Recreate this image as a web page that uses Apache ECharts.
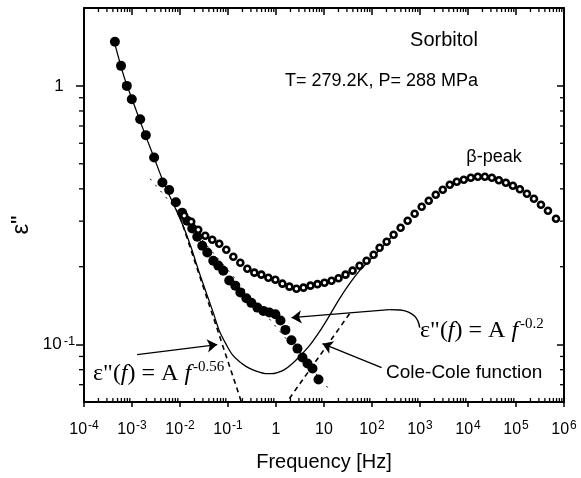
<!DOCTYPE html>
<html><head><meta charset="utf-8">
<script src="https://cdn.jsdelivr.net/npm/echarts@6/dist/echarts.min.js"></script>
<style>html,body{margin:0;padding:0;background:#fff}#c{width:581px;height:478px}</style>
</head><body><div id="c"></div>
<script>
// ---- axis ranges ----
const X_MIN = 1e-4, X_MAX = 1e6, Y_MIN = 0.06, Y_MAX = 2;

// ---- filled circles (alpha process / excess wing) ----
const filledFreq = [4.4e-4, 5.9e-4, 7.8e-4, 9.9e-4, 1.48e-3, 1.94e-3, 2.89e-3, 4.3e-3, 5.95e-3, 8.2e-3,
  0.0111, 0.0141, 0.018, 0.0229, 0.0291, 0.037, 0.0493, 0.0627, 0.0798, 0.106, 0.142, 0.181, 0.241, 0.306,
  0.409, 0.546, 0.728, 0.97, 1.24, 1.57, 2.1, 2.8, 3.56, 4.53, 5.76, 7.68];
const filledEps = [1.48, 1.195, 1.0, 0.888, 0.743, 0.645, 0.529, 0.423, 0.396, 0.355,
  0.323, 0.301, 0.281, 0.261, 0.241, 0.227, 0.211, 0.202, 0.193, 0.177, 0.169, 0.159, 0.151, 0.145,
  0.139, 0.135, 0.133, 0.131, 0.124, 0.114, 0.104, 0.0965, 0.0891, 0.0845, 0.0808, 0.0733];

// ---- open circles (measured, with beta peak) ----
const openFreq = [0.01225, 0.01714, 0.02399, 0.03357, 0.04698, 0.06575, 0.0922, 0.1291, 0.1807, 0.2529,
  0.354, 0.4955, 0.6935, 0.9705, 1.361, 1.905, 2.667, 3.733, 5.224, 7.31, 10.24, 14.34, 20.08, 28.1, 39.4,
  55.1, 77.1, 108, 144, 202, 282, 395, 553, 774, 1084, 1520, 2128, 2979, 4169, 5834, 8166, 11430, 16030,
  22440, 31410, 43950, 61510, 86100, 120500, 169000, 236600, 331100, 463400, 680800];
const openEps = [0.3147, 0.2985, 0.278, 0.2635, 0.2543, 0.2455, 0.2327, 0.2186, 0.2073, 0.1965,
  0.1897, 0.1864, 0.1814, 0.1782, 0.172, 0.1675, 0.1645, 0.166, 0.169, 0.1713, 0.1735, 0.1766, 0.1806, 0.1864, 0.1931,
  0.2018, 0.211, 0.2226, 0.2368, 0.2498, 0.2659, 0.2829, 0.3011, 0.3205, 0.341, 0.3597, 0.3795, 0.3967, 0.4147, 0.4258, 0.4335, 0.4413, 0.4453,
  0.4453, 0.4413, 0.4316, 0.4221, 0.411, 0.3984, 0.3828, 0.3662, 0.3471, 0.3292, 0.3066];

// ---- Cole-Cole function (solid line) ----
const coleFreq = [4.23e-4, 6.84e-4, 1.107e-3, 1.79e-3, 2.89e-3, 4.68e-3, 7.57e-3, 0.01225, 0.01714, 0.0252, 0.0352,
  0.0493, 0.0658, 0.0922, 0.123, 0.172, 0.241, 0.321, 0.45, 0.601, 0.802, 1.07, 1.5, 2.2, 3.08, 4.98, 8.05,
  13.0, 21.1, 34.1, 55.1, 80.9, 144, 269];
const coleEps = [1.492, 1.083, 0.845, 0.664, 0.527, 0.4183, 0.344, 0.2805, 0.2368, 0.1897, 0.1588,
  0.1329, 0.1132, 0.1, 0.0915, 0.086, 0.0822, 0.08, 0.0783, 0.0773, 0.0772, 0.078, 0.08, 0.0845, 0.0899, 0.0991, 0.1122,
  0.1294, 0.1505, 0.172, 0.1931, 0.208, 0.2327, 0.2634];

// ---- power-law asymptotes (dashed) ----
const slope056Freq = [0.01, 0.25];    const slope056Eps = [0.312, 0.0515];
const risingFreq   = [1.9, 37.5];     const risingEps   = [0.0619, 0.135];
const slope02Freq  = [0.00239, 13.0]; const slope02Eps  = [0.4375, 0.067];

// ---- annotation arrows (data coordinates) ----
const arrow056  = [[0.001278, 0.0915], [0.0598, 0.1]];
const arrowCole = [[158.6, 0.0815], [9.31, 0.1008]];
const curve02   = [[986, 0.1163], [900, 0.1235], [760, 0.1292], [560, 0.1338], [380, 0.136], [230, 0.1365]];
const arrow02   = [[230, 0.1365], [2.1, 0.1271]];

const zip = (a, b) => a.map((v, i) => [v, b[i]]);

const minorX = [];
for (let e = -4; e < 6; e++) for (let m = 2; m <= 9; m++) minorX.push([m * Math.pow(10, e), 1]);
const minorY = [];
for (let e = -2; e < 1; e++) for (let m = 2; m <= 9; m++) {
  const v = m * Math.pow(10, e);
  if (v > Y_MIN && v < Y_MAX) minorY.push([1, v]);
}

const FONT = '"Liberation Sans", Arial, sans-serif';
const SERIF = '"Liberation Serif", "Times New Roman", serif';

function isPow10(v) { const l = Math.log10(v); return Math.abs(l - Math.round(l)) < 1e-6; }
function xFmt(v) {
  if (!isPow10(v)) return '';
  const e = Math.round(Math.log10(v));
  if (e === 0) return '{b|1}';
  if (e === 1) return '{b|10}';
  return '{b|10}{s|' + e + '}';
}
function yFmt(v) {
  if (!isPow10(v)) return '';
  const e = Math.round(Math.log10(v));
  if (e === 0) return '{b|1}';
  return '{b|10}{s|' + e + '}';
}
const xRich = {
  b: {fontSize: 16, fontFamily: FONT, color: '#000', lineHeight: 20},
  s: {fontSize: 12, fontFamily: FONT, color: '#000', verticalAlign: 'top', lineHeight: 12, padding: [0, 0, 0, 1]}
};
const yRich = {
  b: {fontSize: 17, fontFamily: FONT, color: '#000', lineHeight: 20},
  s: {fontSize: 13, fontFamily: FONT, color: '#000', verticalAlign: 'top', lineHeight: 13, padding: [0, 0, 0, 2]}
};

const chart = echarts.init(document.getElementById('c'), null, {renderer: 'canvas'});

function minorRender(isX) {
  return function (params, api) {
    const out = [];
    const style = {stroke: '#000', lineWidth: 1.3};
    if (isX) {
      const v = api.value(0);
      const pb = api.coord([v, Y_MIN]);
      const pt = api.coord([v, Y_MAX]);
      out.push({type: 'line', shape: {x1: pb[0], y1: pb[1], x2: pb[0], y2: pb[1] - 4}, style});
      out.push({type: 'line', shape: {x1: pt[0], y1: pt[1], x2: pt[0], y2: pt[1] + 4}, style});
    } else {
      const v = api.value(1);
      const pl = api.coord([X_MIN, v]);
      const pr = api.coord([X_MAX, v]);
      out.push({type: 'line', shape: {x1: pl[0], y1: pl[1], x2: pl[0] - 5, y2: pl[1]}, style});
      out.push({type: 'line', shape: {x1: pr[0], y1: pr[1], x2: pr[0] - 4, y2: pr[1]}, style});
    }
    return {type: 'group', children: out};
  };
}

const formulaRich = {
  n: {fontFamily: SERIF, fontSize: 24, lineHeight: 28, fill: '#000'},
  i: {fontFamily: SERIF, fontSize: 24, fontStyle: 'italic', lineHeight: 28, fill: '#000'},
  s: {fontFamily: SERIF, fontSize: 15, lineHeight: 15, verticalAlign: 'top', fill: '#000', padding: [0, 0, 0, 2]}
};

const option = {
  animation: false,
  backgroundColor: '#fff',
  grid: {left: 84, right: 17, top: 8, bottom: 76, containLabel: false},
  xAxis: [{
    type: 'log', min: X_MIN, max: X_MAX, interval: 1, logBase: 10,
    name: 'Frequency [Hz]', nameLocation: 'middle', nameGap: 50,
    nameTextStyle: {fontFamily: FONT, fontSize: 20, color: '#000'},
    axisLine: {lineStyle: {color: '#000', width: 2}},
    axisTick: {inside: false, length: 5, lineStyle: {color: '#000', width: 1.5}},
    axisLabel: {formatter: xFmt, rich: xRich, margin: 18, showMinLabel: true, showMaxLabel: true},
    splitLine: {show: false}
  }, {
    type: 'log', position: 'top', min: X_MIN, max: X_MAX, interval: 1, logBase: 10,
    axisLine: {lineStyle: {color: '#000', width: 2}},
    axisTick: {inside: true, length: 7, lineStyle: {color: '#000', width: 1.5}},
    axisLabel: {show: false}, splitLine: {show: false}
  }],
  yAxis: [{
    type: 'log', min: Y_MIN, max: Y_MAX, logBase: 10,
    axisLine: {lineStyle: {color: '#000', width: 2}},
    axisTick: {inside: false, length: 8, lineStyle: {color: '#000', width: 1.5}},
    axisLabel: {formatter: yFmt, rich: yRich, margin: 25, align: 'center', showMinLabel: false, showMaxLabel: false},
    splitLine: {show: false}
  }, {
    type: 'log', position: 'right', min: Y_MIN, max: Y_MAX, logBase: 10,
    axisLine: {lineStyle: {color: '#000', width: 2}},
    axisTick: {inside: true, length: 7, lineStyle: {color: '#000', width: 1.5}},
    axisLabel: {show: false}, splitLine: {show: false}
  }],
  series: [
    {type: 'custom', name: 'minorX', data: minorX, renderItem: minorRender(true), clip: false, silent: true, z: 5},
    {type: 'custom', name: 'minorY', data: minorY, renderItem: minorRender(false), clip: false, silent: true, z: 5},
    {type: 'line', name: 'Cole-Cole', data: zip(coleFreq, coleEps), showSymbol: false, smooth: 0.3,
      lineStyle: {color: '#000', width: 1.3}, z: 2},
    {type: 'line', name: 'f^-0.56', data: zip(slope056Freq, slope056Eps), showSymbol: false,
      lineStyle: {color: '#000', width: 1.6, type: [5, 4]}, z: 2},
    {type: 'line', name: 'rising', data: zip(risingFreq, risingEps), showSymbol: false,
      lineStyle: {color: '#000', width: 1.6, type: [5, 4]}, z: 2},
    {type: 'line', name: 'f^-0.2', data: zip(slope02Freq, slope02Eps), showSymbol: false,
      lineStyle: {color: '#000', width: 1.0, type: [2, 6]}, z: 2},
    {type: 'scatter', name: 'filled', data: zip(filledFreq, filledEps), symbol: 'circle', symbolSize: 10,
      itemStyle: {color: '#000', opacity: 1}, z: 3},
    {type: 'scatter', name: 'open', data: zip(openFreq, openEps), symbol: 'circle', symbolSize: 6,
      itemStyle: {color: '#fff', borderColor: '#000', borderWidth: 2.6, opacity: 1}, z: 4},
    {type: 'line', name: 'arrowCurve', data: curve02, showSymbol: false, smooth: 0.5, z: 6,
      lineStyle: {color: '#000', width: 1.4}},
    {type: 'lines', coordinateSystem: 'cartesian2d', z: 6,
      symbol: ['none', 'arrow'], symbolSize: 10,
      lineStyle: {color: '#000', width: 1.4, opacity: 1, curveness: 0},
      data: [{coords: arrow056}, {coords: arrowCole}, {coords: arrow02}]}
  ],
  graphic: [
    {type: 'text', x: 444, y: 40, style: {text: 'Sorbitol', font: '20px ' + FONT, fill: '#000', align: 'center', verticalAlign: 'middle'}},
    {type: 'text', x: 285, y: 81, style: {text: 'T= 279.2K, P= 288 MPa', font: '18px ' + FONT, fill: '#000', align: 'left', verticalAlign: 'middle'}},
    {type: 'text', x: 494, y: 157, style: {text: 'β-peak', font: '18px ' + FONT, fill: '#000', align: 'center', verticalAlign: 'middle'}},
    {type: 'text', x: 386, y: 373, style: {text: 'Cole-Cole function', font: '19px ' + FONT, fill: '#000', align: 'left', verticalAlign: 'middle'}},
    {type: 'text', x: 21, y: 225, rotation: Math.PI / 2,
      style: {text: 'ε"', font: '24px ' + FONT, fill: '#000', align: 'center', verticalAlign: 'middle'}},
    {type: 'text', x: 420, y: 331, style: {
      text: '{n|ε"(}{i|f}{n|) = A }{i|f}{s|-0.2}', verticalAlign: 'middle', align: 'left', rich: formulaRich}},
    {type: 'text', x: 93, y: 374, style: {
      text: '{n|ε"(}{i|f}{n|) = A }{i|f}{s|-0.56}', verticalAlign: 'middle', align: 'left', rich: formulaRich}}
  ]
};
chart.setOption(option);
</script></body></html>
